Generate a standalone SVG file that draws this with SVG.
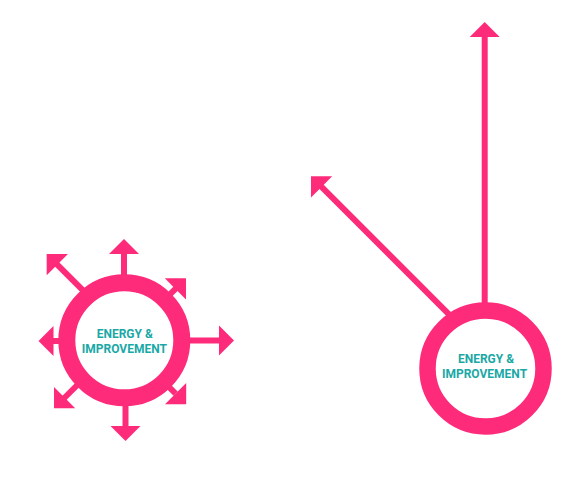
<svg xmlns="http://www.w3.org/2000/svg" xmlns:xlink="http://www.w3.org/1999/xlink" width="583" height="504" viewBox="0 0 583 504">
  <style>
    .shaft { stroke: #fe2b7a; stroke-width: 6; fill: none; stroke-linecap: butt; }
    .head { fill: #fe2b7a; }
    .ring { fill: #ffffff; stroke: #fe2b7a; }
    .label { font-family: Roboto, "Liberation Sans", sans-serif; font-weight: bold; font-size: 12px; fill: #1aa8a6; text-anchor: middle; }
  </style>
  <defs>
    <path id="ah" class="head" d="M0,0 L-15,15 L15,15 Z"/>
  </defs>
  <rect width="583" height="504" fill="#ffffff"/>
  <g id="connectors">
    <!-- left node arrows -->
    <line class="shaft" x1="124" y1="253" x2="124" y2="320"/>
    <use xlink:href="#ah" href="#ah" transform="translate(124,239)"/>
    <line class="shaft" x1="160" y1="340.5" x2="221" y2="340.5"/>
    <use xlink:href="#ah" href="#ah" transform="translate(234,340.5) rotate(90)"/>
    <line class="shaft" x1="125.5" y1="370" x2="125.5" y2="427"/>
    <use xlink:href="#ah" href="#ah" transform="translate(125.5,441) rotate(180)"/>
    <line class="shaft" x1="52" y1="341" x2="90" y2="341"/>
    <use xlink:href="#ah" href="#ah" transform="translate(38.5,341) rotate(-90)"/>
    <line class="shaft" x1="56.5" y1="263.8" x2="100" y2="307.3"/>
    <use xlink:href="#ah" href="#ah" transform="translate(46.7,254) rotate(-45)"/>
    <line class="shaft" x1="176.2" y1="288.1" x2="145" y2="319.3"/>
    <use xlink:href="#ah" href="#ah" transform="translate(186,278.3) rotate(45)"/>
    <line class="shaft" x1="63.8" y1="398.5" x2="100" y2="362.3"/>
    <use xlink:href="#ah" href="#ah" transform="translate(54,408.3) rotate(-135)"/>
    <line class="shaft" x1="175.6" y1="393.7" x2="145" y2="363"/>
    <use xlink:href="#ah" href="#ah" transform="translate(186.2,404.3) rotate(135)"/>
    <!-- right node arrows -->
    <line class="shaft" x1="484.7" y1="35" x2="484.7" y2="340"/>
    <use xlink:href="#ah" href="#ah" transform="translate(484.7,22) rotate(0)"/>
    <line class="shaft" x1="320.8" y1="186.1" x2="470" y2="335.3"/>
    <use xlink:href="#ah" href="#ah" transform="translate(311,176.3) rotate(-45)"/>
  </g>
  <g id="node-left">
    <circle class="ring" cx="124.3" cy="340.3" r="57.5" stroke-width="17"/>
    <text class="label" x="124.8" y="337.5">ENERGY &amp;</text>
    <text class="label" x="124.3" y="352.5">IMPROVEMENT</text>
  </g>
  <g id="node-right">
    <circle class="ring" cx="485.5" cy="368.5" r="58" stroke-width="16.5"/>
    <text class="label" x="486" y="362.5">ENERGY &amp;</text>
    <text class="label" x="484.5" y="377.5">IMPROVEMENT</text>
  </g>
</svg>
